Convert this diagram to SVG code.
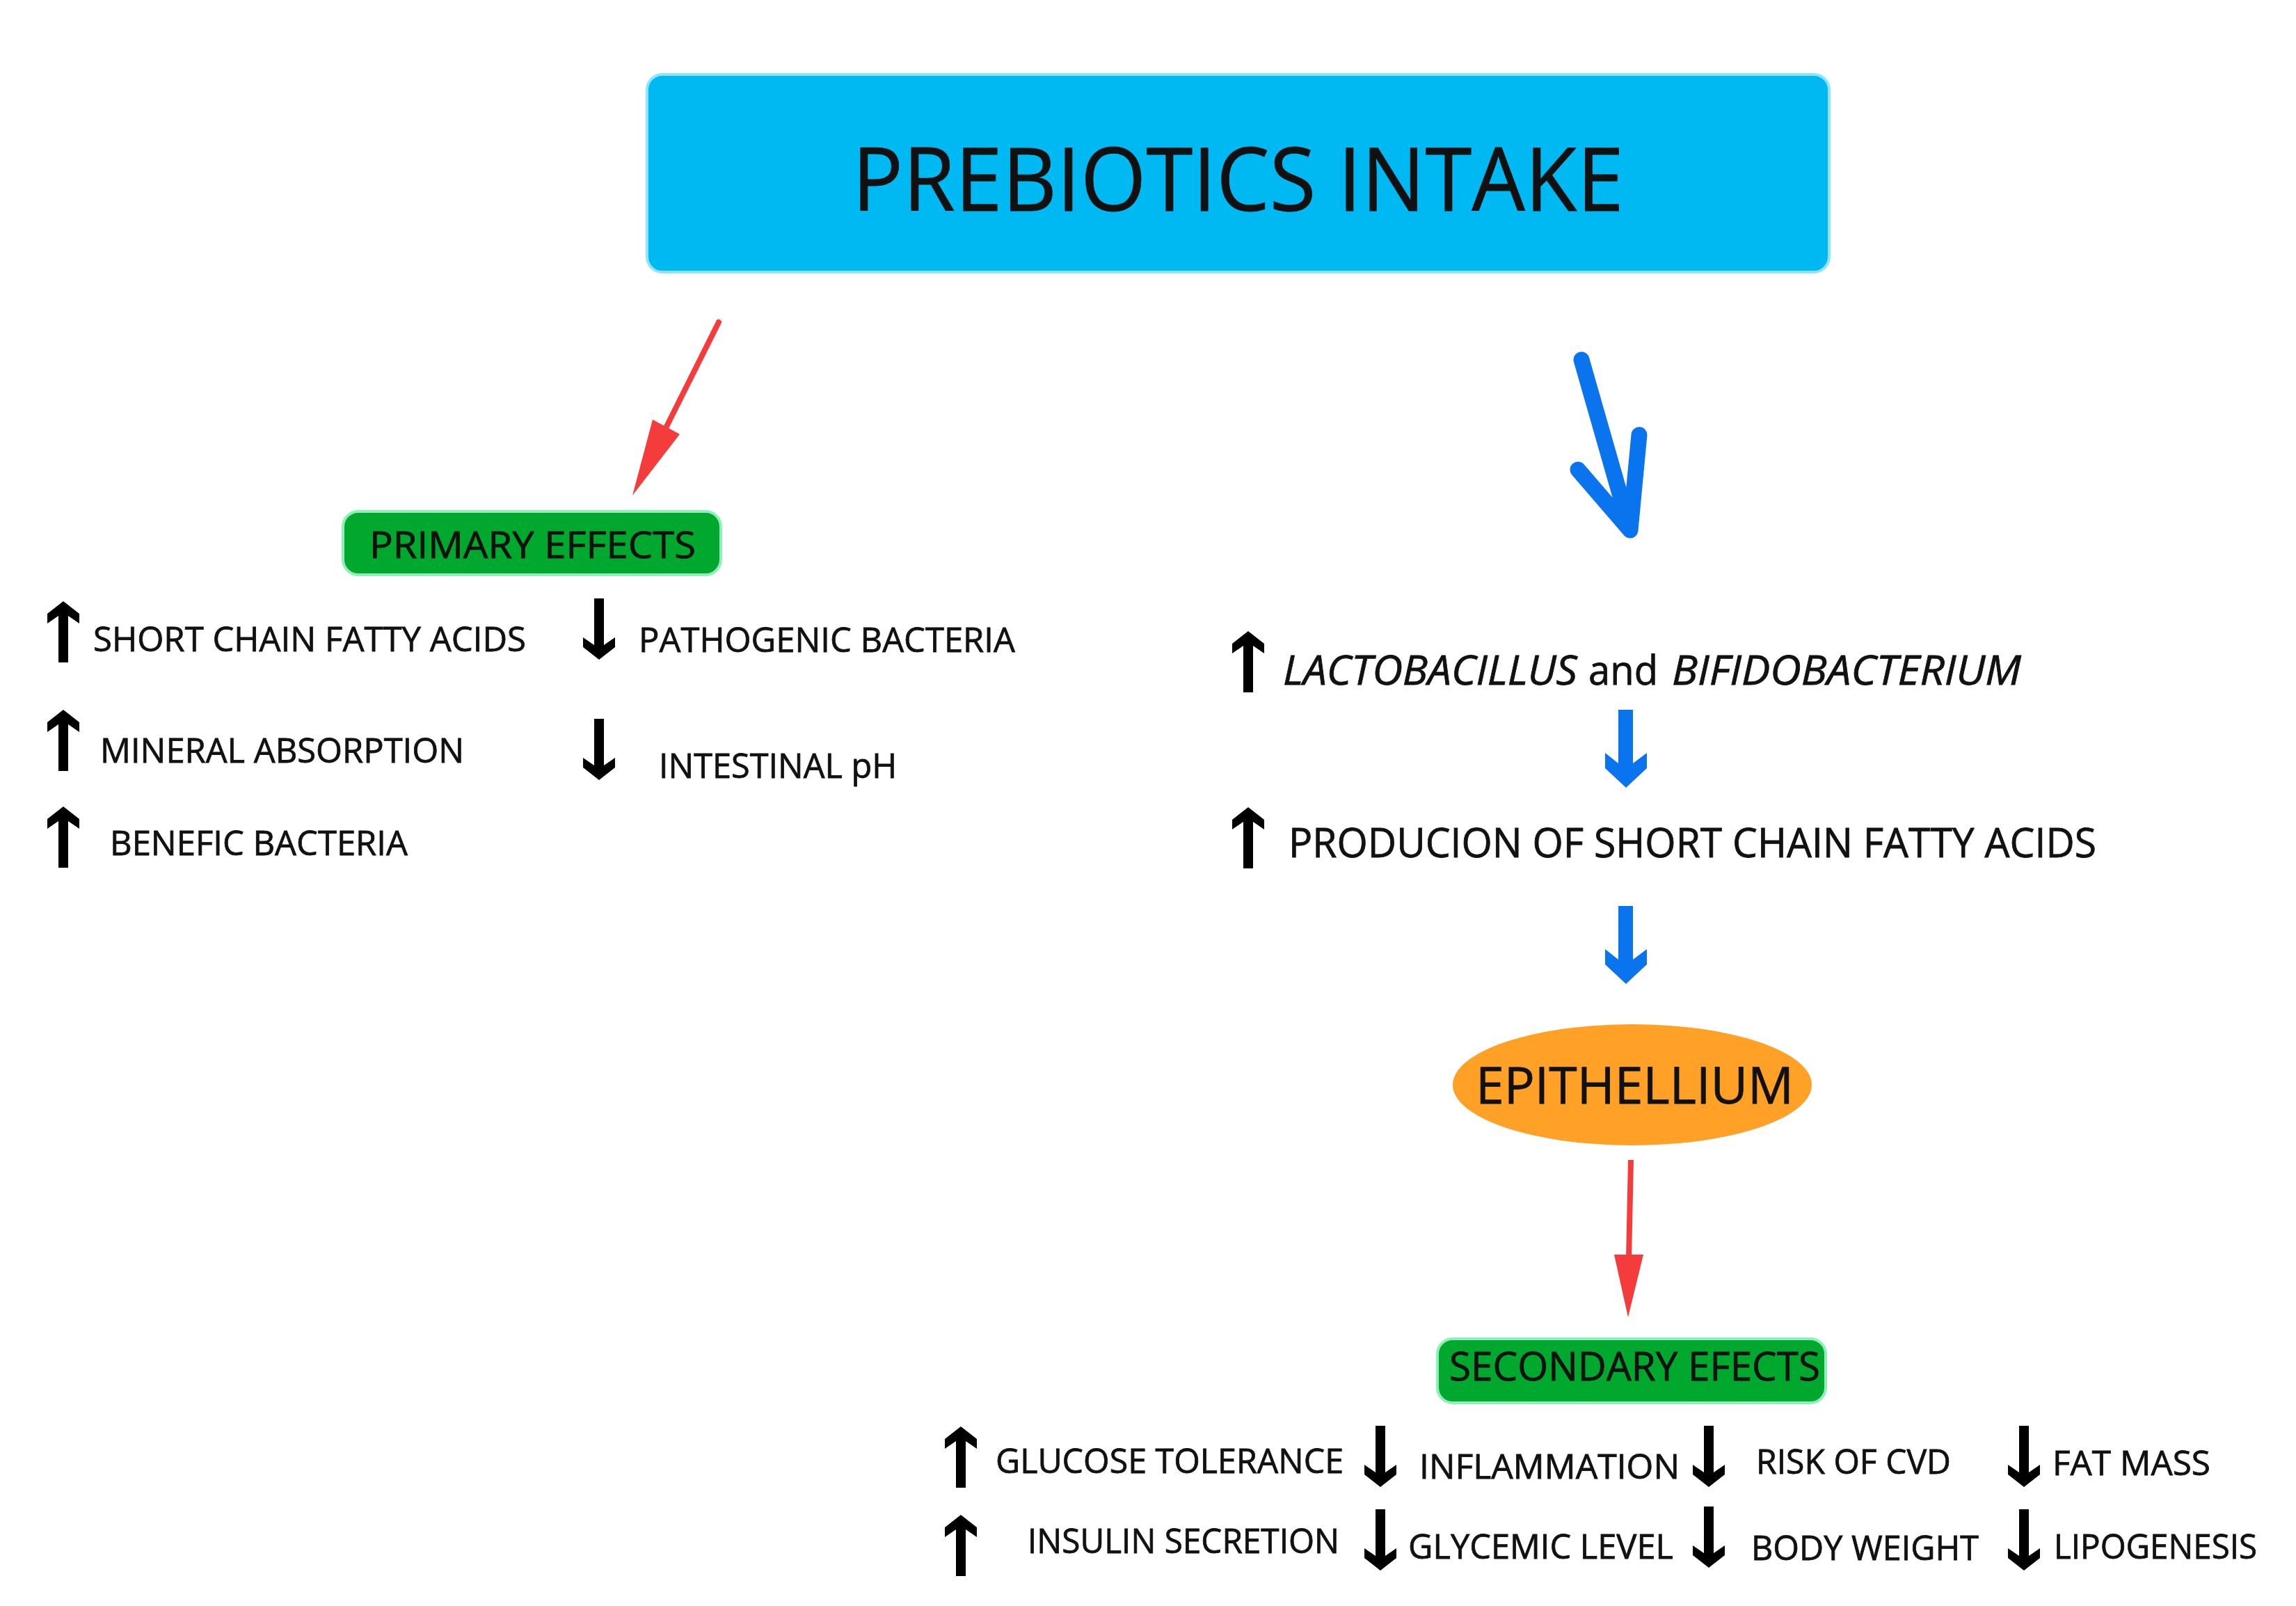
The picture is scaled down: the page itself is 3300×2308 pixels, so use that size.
<svg xmlns="http://www.w3.org/2000/svg" xmlns:xlink="http://www.w3.org/1999/xlink" width="3300" height="2308" viewBox="0 0 3300 2308">
<style>
  text { font-family: "Open Sans", "Liberation Sans", sans-serif; fill: #111; stroke: #111; stroke-width: 0.8; }
  .lst { font-size: 50px; }
  .bot { font-size: 49px; }
  .rgt { font-size: 58px; }
  .ital { font-style: italic; }
  .green { fill: #00A82D; stroke: #8EF0B8; stroke-width: 4; }
  .red { stroke: #F43C3C; stroke-width: 8; fill: none; }
  .redfill { fill: #F43C3C; }
  .blue { stroke: #0A74EE; fill: none; }
  .bluefill { fill: #0A74EE; }
  .blk { fill: #000; }
</style>
<defs>
  <path id="up" d="M0,0 L23,18 L23,32 L7,21 L7,88 L-7,88 L-7,21 L-23,32 L-23,18 Z"/>
  <path id="down" d="M0,0 L23,-18 L23,-32 L7,-21 L7,-88 L-7,-88 L-7,-21 L-23,-32 L-23,-18 Z"/>
  <path id="bluedown" d="M2326,1020 L2347,1020 L2347,1097 L2367,1082 L2367,1104 L2337,1132 L2307,1104 L2307,1082 L2326,1097 Z"/>
</defs>
<rect width="3300" height="2308" fill="#fff"/>

<g id="prebiotics-intake">
  <rect x="930" y="107" width="1699" height="284" rx="22" fill="#00B9F2" stroke="#8FE4FF" stroke-width="4"/>
  <text x="1225" y="303" font-size="126" stroke-width="1.5" textLength="1109" lengthAdjust="spacingAndGlyphs">PREBIOTICS INTAKE</text>
</g>

<g id="primary-effects">
  <rect class="green" x="493" y="735" width="543" height="91" rx="22"/>
  <text x="531" y="802" font-size="53" textLength="469" lengthAdjust="spacingAndGlyphs">PRIMARY EFFECTS</text>
</g>

<g id="primary-list">
  <g id="p-scfa"><use href="#up" class="blk" x="91" y="864"/><text class="lst" x="134" y="936" textLength="622" lengthAdjust="spacingAndGlyphs">SHORT CHAIN FATTY ACIDS</text></g>
  <g id="p-pathogenic"><use href="#down" class="blk" x="861" y="948"/><text class="lst" x="918" y="937" textLength="541" lengthAdjust="spacingAndGlyphs">PATHOGENIC BACTERIA</text></g>
  <g id="p-mineral"><use href="#up" class="blk" x="91" y="1020"/><text class="lst" x="144" y="1096" textLength="523" lengthAdjust="spacingAndGlyphs">MINERAL ABSORPTION</text></g>
  <g id="p-ph"><use href="#down" class="blk" x="861" y="1121"/><text class="lst" x="947" y="1118" textLength="342" lengthAdjust="spacingAndGlyphs">INTESTINAL pH</text></g>
  <g id="p-benefic"><use href="#up" class="blk" x="91" y="1159"/><text class="lst" x="158" y="1229" textLength="428" lengthAdjust="spacingAndGlyphs">BENEFIC BACTERIA</text></g>
</g>

<g id="lactobacillus">
  <use href="#up" class="blk" x="1794" y="907"/>
  <text class="rgt" y="984"><tspan class="ital" x="1844" textLength="423" lengthAdjust="spacingAndGlyphs">LACTOBACILLUS</tspan><tspan x="2283" textLength="100" lengthAdjust="spacingAndGlyphs">and</tspan><tspan class="ital" x="2403" textLength="502" lengthAdjust="spacingAndGlyphs">BIFIDOBACTERIUM</tspan></text>
</g>

<g id="scfa-production">
  <use href="#up" class="blk" x="1794" y="1160"/>
  <text class="rgt" x="1852" y="1232" textLength="1161" lengthAdjust="spacingAndGlyphs">PRODUCION OF SHORT CHAIN FATTY ACIDS</text>
</g>

<g id="epithellium">
  <ellipse cx="2346" cy="1559" rx="258" ry="87" fill="#FFA126"/>
  <text x="2121" y="1586" font-size="74" textLength="457" lengthAdjust="spacingAndGlyphs">EPITHELLIUM</text>
</g>

<g id="secondary-effects">
  <rect class="green" x="2066" y="1924" width="558" height="92" rx="22"/>
  <text x="2083" y="1984" font-size="56" textLength="533" lengthAdjust="spacingAndGlyphs">SECONDARY EFECTS</text>
</g>

<g id="secondary-list">
  <g id="s-glucose"><use href="#up" class="blk" x="1381" y="2050"/><text class="bot" x="1431" y="2117" textLength="500" lengthAdjust="spacingAndGlyphs">GLUCOSE TOLERANCE</text></g>
  <g id="s-inflammation"><use href="#down" class="blk" x="1984" y="2137"/><text class="bot" x="2040" y="2125" textLength="374" lengthAdjust="spacingAndGlyphs">INFLAMMATION</text></g>
  <g id="s-cvd"><use href="#down" class="blk" x="2456" y="2137"/><text class="bot" x="2524" y="2118" textLength="280" lengthAdjust="spacingAndGlyphs">RISK OF CVD</text></g>
  <g id="s-fat"><use href="#down" class="blk" x="2909" y="2137"/><text class="bot" x="2950" y="2120" textLength="227" lengthAdjust="spacingAndGlyphs">FAT MASS</text></g>
  <g id="s-insulin"><use href="#up" class="blk" x="1381" y="2177"/><text class="bot" x="1477" y="2232" textLength="448" lengthAdjust="spacingAndGlyphs">INSULIN SECRETION</text></g>
  <g id="s-glycemic"><use href="#down" class="blk" x="1984" y="2257"/><text class="bot" x="2024" y="2240" textLength="381" lengthAdjust="spacingAndGlyphs">GLYCEMIC LEVEL</text></g>
  <g id="s-body"><use href="#down" class="blk" x="2456" y="2253"/><text class="bot" x="2517" y="2242" textLength="327" lengthAdjust="spacingAndGlyphs">BODY WEIGHT</text></g>
  <g id="s-lipo"><use href="#down" class="blk" x="2909" y="2257"/><text class="bot" x="2952" y="2240" textLength="292" lengthAdjust="spacingAndGlyphs">LIPOGENESIS</text></g>
</g>

<g id="connectors">
  <g id="c-intake-primary">
    <line class="red" x1="1033" y1="463" x2="956" y2="617" stroke-linecap="round"/>
    <polygon class="redfill" points="909,712 938,603 977,624"/>
  </g>
  <g id="c-intake-lacto">
    <path class="blue" d="M2273,517 L2343,762 M2268,675 L2343,762 L2356,625" stroke-width="23" stroke-linecap="round" stroke-linejoin="round"/>
  </g>
  <g id="c-lacto-scfa">
    <use href="#bluedown" class="bluefill"/>
  </g>
  <g id="c-scfa-epi">
    <use href="#bluedown" class="bluefill" y="282"/>
  </g>
  <g id="c-epi-secondary">
    <line class="red" x1="2344" y1="1667" x2="2341" y2="1810" stroke-width="6"/>
    <polygon class="redfill" points="2320,1803 2362,1803 2340,1893"/>
  </g>
</g>
</svg>
